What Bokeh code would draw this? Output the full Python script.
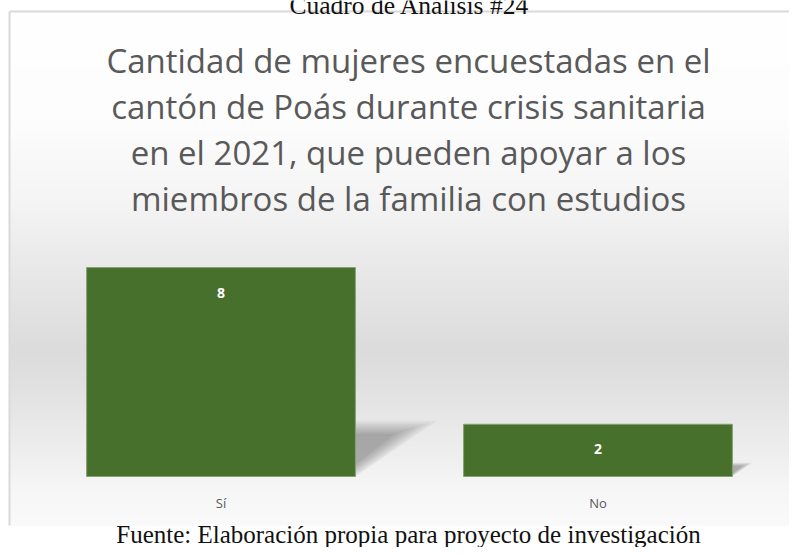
import numpy as np
from bokeh.plotting import figure
from bokeh.models import Range1d, Label
from bokeh.core.properties import value
from bokeh.embed import file_html
from bokeh.resources import INLINE

# ---------------- data ----------------
CAPTION = "Cuadro de Análisis #24"
TITLE_LINES = [
    "Cantidad de mujeres encuestadas en el",
    "cantón de Poás durante crisis sanitaria",
    "en el 2021, que pueden apoyar a los",
    "miembros de la familia con estudios",
]
SOURCE = "Fuente: Elaboración propia para proyecto de investigación"
CATEGORIES = ["Sí", "No"]
COUNTS = [8, 2]

# ---------------- layout constants (canvas pixels) ----------------
W, H = 789, 547
BOX_LEFT, BOX_TOP, BOX_BOTTOM = 9, 11, 525
BASE_PX = 476
PX_PER_UNIT = 26.125
CAT_PX = 377
FIRST_CAT_X = 220.5
BAR_WIDTH = 0.713

y_end = BASE_PX / PX_PER_UNIT
y_start = -(H - BASE_PX) / PX_PER_UNIT
box_top = (BASE_PX - BOX_TOP) / PX_PER_UNIT
box_bottom = -(BOX_BOTTOM - BASE_PX) / PX_PER_UNIT
x_start = 0.5 - FIRST_CAT_X / CAT_PX
x_end = x_start + W / CAT_PX
box_left = x_start + BOX_LEFT / CAT_PX

p = figure(width=W, height=H,
           x_range=Range1d(x_start, x_end), y_range=Range1d(y_start, y_end),
           x_axis_location=None, y_axis_location=None,
           output_backend="svg", toolbar_location=None,
           min_border_left=0, min_border_right=0,
           min_border_top=0, min_border_bottom=0)
p.title.visible = False
p.grid.visible = False
p.outline_line_color = None
p.background_fill_color = "white"
p.border_fill_color = "white"

# ---------------- chart-area background gradient ----------------
stops_y = [11, 120, 200, 250, 300, 350, 380, 420, 460, 490, 525]
stops_g = [255, 253, 245, 236, 228, 220, 224, 232, 240, 247, 250]
N = BOX_BOTTOM - BOX_TOP
rows_y = BOX_BOTTOM - np.arange(N) - 0.5
gray = np.interp(rows_y, stops_y, stops_g).astype(np.uint8)
img = np.empty((N, 1), dtype=np.uint32)
view = img.view(dtype=np.uint8).reshape((N, 1, 4))
view[:, 0, 0] = gray
view[:, 0, 1] = gray
view[:, 0, 2] = gray
view[:, 0, 3] = 255
p.image_rgba(image=[img], x=box_left, y=box_bottom, dw=x_end - box_left, dh=box_top - box_bottom)

# chart-area border (left and top)
p.segment(x0=[box_left], y0=[box_bottom], x1=[box_left], y1=[box_top],
          line_color="#d9d9d9", line_width=2)
p.segment(x0=[box_left], y0=[box_top], x1=[x_end], y1=[box_top],
          line_color="#d9d9d9", line_width=2)

# ---------------- soft shadows ----------------
xc = [i + 0.5 for i in range(len(CATEGORIES))]
DX = 0.02
HS = 0.235
ES = 0.025
for j in np.linspace(-3, 3, 9):
    sxs, sys = [], []
    for x, v in zip(xc, COUNTS):
        xl, xr = x - BAR_WIDTH / 2, x + BAR_WIDTH / 2
        top = HS * v * (1 + 0.045 * j)
        e = ES * v * max(0.0, 1 - 0.4 * j)
        sxs.append([xl, xr, xr + DX * v * (1 + 0.12 * j), xl])
        sys.append([e, e, top, top])
    p.patches(xs=sxs, ys=sys, fill_color="black", fill_alpha=0.034, line_color=None)

# ---------------- bars ----------------
p.vbar(x=xc, top=COUNTS, bottom=0, width=BAR_WIDTH,
       fill_color="#47702d", line_color="#86a06f", line_width=1)

p.text(x=xc, y=COUNTS, text=[str(c) for c in COUNTS], y_offset=25,
       text_align="center", text_baseline="middle", text_color="white",
       text_font=value("Open Sans"), text_font_style="bold", text_font_size="14px")

p.text(x=xc, y=[0] * len(CATEGORIES), text=CATEGORIES, y_offset=26,
       text_align="center", text_baseline="middle", text_color="#595959",
       text_font=value("Open Sans"), text_font_size="13px")

# ---------------- texts (screen units: from canvas bottom, upward) ----------------
TITLE_BASELINES = [60, 106, 152, 198]
for line, by in zip(TITLE_LINES, TITLE_BASELINES):
    p.add_layout(Label(x=408, y=H - by, x_units="screen", y_units="screen",
                       text=line, text_align="center", text_baseline="alphabetic",
                       text_font="Open Sans", text_font_size="33px", text_color="#595959"))

p.add_layout(Label(x=409, y=H - 5, x_units="screen", y_units="screen",
                   text=CAPTION, text_align="center", text_baseline="alphabetic",
                   text_font="Liberation Serif", text_font_size="25.5px", text_color="#111111"))
p.add_layout(Label(x=408, y=H - 534, x_units="screen", y_units="screen",
                   text=SOURCE, text_align="center", text_baseline="alphabetic",
                   text_font="Liberation Serif", text_font_size="25px", text_color="#111111"))

open("out.html", "w").write(file_html(p, INLINE))
